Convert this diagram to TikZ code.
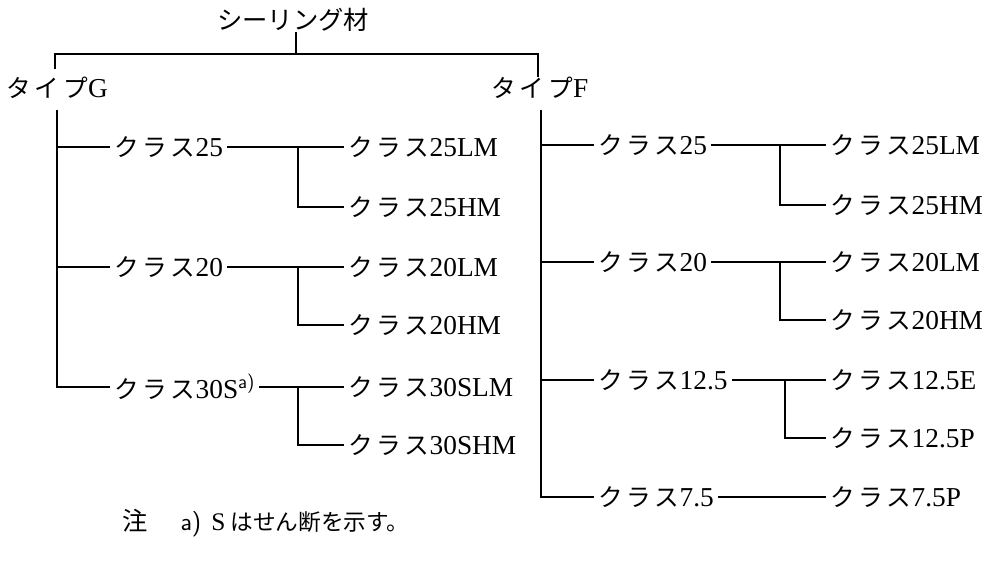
\documentclass[tikz,border=0pt]{standalone}
\usepackage{fontspec}
\setmainfont{Liberation Serif}
\newfontfamily\cjk{Noto Sans CJK JP}[LetterSpace=16]
\newfontfamily\cjkt{Noto Sans CJK JP}
\newcommand{\K}[1]{{\fontsize{18.5}{22}\selectfont\cjk #1}}
\begin{document}
\begin{tikzpicture}[x=0.75pt,y=-0.75pt,
  every node/.style={inner xsep=3pt, inner ysep=0pt, font=\fontsize{20.5}{22}\selectfont},
  lbl/.style={anchor=west},
  ln/.style={line width=1.1pt, black}]
\useasboundingbox (0,0) rectangle (1000,565);
% root
\node (root) at (293,20) {\fontsize{19}{22}\selectfont\cjkt シーリング材};
\node[lbl] (tG) at (2,88) {\K{タイプ}G};
\node[lbl] (tF) at (487,88) {\K{タイプ}F};
\coordinate (hL) at (55,54);
\coordinate (hR) at (538,54);
\coordinate (hM) at (296,54);
\draw[ln] (root.south -| hM) -- (hM);
\draw[ln, shorten <=6pt] (tG.north -| hL) -- (hL) -- (hR) -- (tF.north -| hR);
% type G
\coordinate (gx) at (57,0);
\coordinate (gs) at (298,0);
\node[lbl] (g25) at (110,147) {\K{クラス}25};
\node[lbl] (g20) at (110,267) {\K{クラス}20};
\node[lbl] (g30) at (110,387) {\K{クラス}30S\textsuperscript{\sffamily a)}};
\node[lbl] (g25L) at (344,147) {\K{クラス}25LM};
\node[lbl] (g25H) at (344,207) {\K{クラス}25HM};
\node[lbl] (g20L) at (344,267) {\K{クラス}20LM};
\node[lbl] (g20H) at (344,325) {\K{クラス}20HM};
\node[lbl] (g30L) at (344,387) {\K{クラス}30SLM};
\node[lbl] (g30H) at (344,445) {\K{クラス}30SHM};
\draw[ln, shorten <=8pt] (tG.south -| gx) -- (g30.west -| gx) -- (g30.west);
\draw[ln] (g25.west -| gx) -- (g25.west);
\draw[ln] (g20.west -| gx) -- (g20.west);
\draw[ln] (g25.east) -- (g25L.west);
\draw[ln] (g25.east -| gs) -- (g25H.west -| gs) -- (g25H.west);
\draw[ln] (g20.east) -- (g20L.west);
\draw[ln] (g20.east -| gs) -- (g20H.west -| gs) -- (g20H.west);
\draw[ln] (g30.east) -- (g30L.west);
\draw[ln] (g30.east -| gs) -- (g30H.west -| gs) -- (g30H.west);
% type F
\coordinate (fx) at (541,0);
\coordinate (fs) at (780,0);
\coordinate (fs2) at (785,0);
\node[lbl] (f25) at (594,145) {\K{クラス}25};
\node[lbl] (f20) at (594,262) {\K{クラス}20};
\node[lbl] (f12) at (594,380) {\K{クラス}12.5};
\node[lbl] (f7) at (594,497) {\K{クラス}7.5};
\node[lbl] (f25L) at (826,145) {\K{クラス}25LM};
\node[lbl] (f25H) at (826,205) {\K{クラス}25HM};
\node[lbl] (f20L) at (826,262) {\K{クラス}20LM};
\node[lbl] (f20H) at (826,320) {\K{クラス}20HM};
\node[lbl] (f12E) at (826,380) {\K{クラス}12.5E};
\node[lbl] (f12P) at (826,438) {\K{クラス}12.5P};
\node[lbl] (f7P) at (826,497) {\K{クラス}7.5P};
\draw[ln, shorten <=8pt] (tF.south -| fx) -- (f7.west -| fx) -- (f7.west);
\draw[ln] (f25.west -| fx) -- (f25.west);
\draw[ln] (f20.west -| fx) -- (f20.west);
\draw[ln] (f12.west -| fx) -- (f12.west);
\draw[ln] (f25.east) -- (f25L.west);
\draw[ln] (f25.east -| fs) -- (f25H.west -| fs) -- (f25H.west);
\draw[ln] (f20.east) -- (f20L.west);
\draw[ln] (f20.east -| fs) -- (f20H.west -| fs) -- (f20H.west);
\draw[ln] (f12.east) -- (f12E.west);
\draw[ln] (f12.east -| fs2) -- (f12P.west -| fs2) -- (f12P.west);
\draw[ln] (f7.east) -- (f7P.west);
% note
\node[lbl, font=\fontsize{19}{22}\selectfont] (note) at (118,523) {{\cjkt 注}\hspace{1.3em}{\sffamily a)}\hspace{0.4em}S\hspace{0.2em}{\fontsize{17}{20}\selectfont\cjkt はせん断を示す。}};
\end{tikzpicture}
\end{document}
